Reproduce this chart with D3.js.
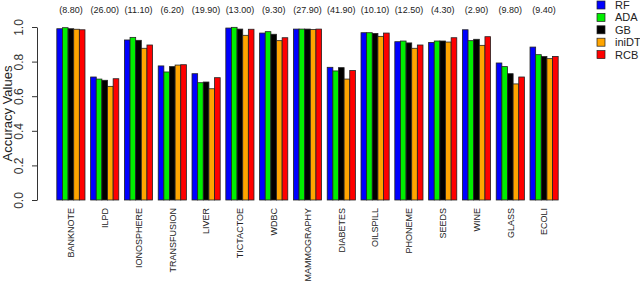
<!DOCTYPE html>
<html>
<head>
<meta charset="utf-8">
<script src="https://cdn.jsdelivr.net/npm/d3@7"></script>
<style>
  body { margin: 0; background: #fff; }
  text { font-family: "Liberation Sans", Arial, sans-serif; }
</style>
</head>
<body>
<div id="chart"></div>
<script>
const datasets = ["BANKNOTE", "ILPD", "IONOSPHERE", "TRANSFUSION", "LIVER", "TICTACTOE", "WDBC",
  "MAMMOGRAPHY", "DIABETES", "OILSPILL", "PHONEME", "SEEDS", "WINE", "GLASS", "ECOLI"];
const notes = ["(8.80)", "(26.00)", "(11.10)", "(6.20)", "(19.90)", "(13.00)", "(9.30)",
  "(27.90)", "(41.90)", "(10.10)", "(12.50)", "(4.30)", "(2.90)", "(9.80)", "(9.40)"];
const methods = ["RF", "ADA", "GB", "iniDT", "RCB"];
const colors = ["#0000ff", "#00ee00", "#000000", "#ffa500", "#ff0000"];

const rf    = [0.990, 0.711, 0.925, 0.775, 0.730, 0.994, 0.965, 0.988, 0.767, 0.967, 0.915, 0.911, 0.984, 0.792, 0.884];
const ada   = [0.996, 0.699, 0.940, 0.740, 0.678, 0.998, 0.973, 0.988, 0.746, 0.967, 0.919, 0.919, 0.921, 0.771, 0.840];
const gb    = [0.990, 0.692, 0.923, 0.771, 0.682, 0.988, 0.958, 0.988, 0.765, 0.963, 0.908, 0.919, 0.929, 0.730, 0.829];
const inidt = [0.987, 0.657, 0.877, 0.780, 0.643, 0.952, 0.921, 0.985, 0.699, 0.946, 0.877, 0.913, 0.894, 0.671, 0.817];
const rcb   = [0.984, 0.701, 0.896, 0.782, 0.707, 0.987, 0.938, 0.988, 0.748, 0.965, 0.896, 0.938, 0.944, 0.711, 0.830];
const series = [rf, ada, gb, inidt, rcb];
const yTicks = [0, 0.2, 0.4, 0.6, 0.8, 1.0];

const W = 640, H = 301;
const plot = { left: 54, right: 561, top: 27, bottom: 200 };

const svg = d3.select("#chart").append("svg")
  .attr("width", W).attr("height", H);

// groups with one-bar gap between them, like R barplot(beside=TRUE)
const x0 = d3.scaleBand().domain(datasets).range([plot.left, plot.right]).paddingInner(1 / 6).paddingOuter(1 / 12);
const x1 = d3.scaleBand().domain(methods).range([0, x0.bandwidth()]);
const y = d3.scaleLinear().domain([0, 1]).range([plot.bottom, plot.top]);

const groups = svg.selectAll(".grp")
  .data(datasets)
  .enter().append("g")
  .attr("class", "grp")
  .attr("transform", d => `translate(${x0(d)},0)`);

groups.selectAll("rect")
  .data((d, i) => methods.map((m, j) => ({ m, v: series[j][i], c: colors[j] })))
  .enter().append("rect")
  .attr("x", d => x1(d.m))
  .attr("y", d => y(d.v))
  .attr("width", x1.bandwidth())
  .attr("height", d => y(0) - y(d.v))
  .attr("fill", d => d.c)
  .attr("stroke", "#222")
  .attr("stroke-width", 0.8);

// notes above groups
svg.selectAll(".note")
  .data(datasets)
  .enter().append("text")
  .attr("class", "note")
  .attr("x", d => x0(d) + x0.bandwidth() / 2)
  .attr("y", 13)
  .attr("text-anchor", "middle")
  .style("font-size", "9px")
  .style("fill", "#222")
  .text((d, i) => notes[i]);

// x labels, rotated
svg.selectAll(".xlab")
  .data(datasets)
  .enter().append("text")
  .attr("class", "xlab")
  .attr("transform", d => `translate(${x0(d) + x0.bandwidth() / 2 + 3.3},208) rotate(-90)`)
  .attr("text-anchor", "end")
  .style("font-size", "9px")
  .style("fill", "#222")
  .text(d => d);

// y axis
const yAxis = svg.append("g")
  .attr("transform", `translate(37,0)`)
  .call(d3.axisLeft(y).tickValues(yTicks).tickFormat(d3.format(".1f")).tickSize(5).tickSizeOuter(0));
yAxis.select(".domain").attr("stroke", "#333");
yAxis.selectAll(".tick line").attr("stroke", "#333");
yAxis.selectAll(".tick text")
  .attr("x", 0).attr("dy", 0)
  .attr("transform", "translate(-14,0) rotate(-90)")
  .attr("text-anchor", "middle")
  .style("font-size", "12px")
  .style("font-family", "Liberation Sans, Arial, sans-serif")
  .style("fill", "#333");

svg.append("text")
  .attr("transform", `translate(12,${(plot.top + plot.bottom) / 2}) rotate(-90)`)
  .attr("text-anchor", "middle")
  .style("font-size", "13px")
  .style("fill", "#222")
  .text("Accuracy Values");

// legend
const legend = svg.selectAll(".leg")
  .data(methods)
  .enter().append("g")
  .attr("class", "leg")
  .attr("transform", (d, i) => `translate(597,${5 + i * 12.4})`);
legend.append("rect")
  .attr("x", 0).attr("y", -4)
  .attr("width", 8).attr("height", 8)
  .attr("fill", (d, i) => colors[i])
  .attr("stroke", "#222").attr("stroke-width", 0.7);
legend.append("text")
  .attr("x", 18).attr("y", 4)
  .style("font-size", "11px")
  .style("fill", "#222")
  .text(d => d);
</script>
</body>
</html>
